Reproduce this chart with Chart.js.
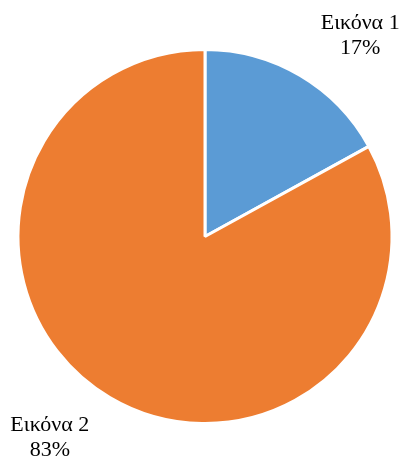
<!DOCTYPE html>
<html>
<head>
<meta charset="utf-8">
<script src="https://cdn.jsdelivr.net/npm/chart.js@4"></script>
<style>
  html, body { margin: 0; padding: 0; background: #fff; }
  #wrap { width: 403px; height: 461px; }
</style>
</head>
<body>
<div id="wrap"><canvas id="pieChart" width="403" height="461"></canvas></div>
<script>
const labels = ['Εικόνα 1', 'Εικόνα 2'];
const values = [17, 83];
const colors = ['#5B9BD5', '#ED7D31'];

// category name + percent outside each slice
const outsideLabels = {
  id: 'outsideLabels',
  afterDraw(chart) {
    const ctx = chart.ctx;
    const meta = chart.getDatasetMeta(0);
    const total = values.reduce((s, v) => s + v, 0);
    ctx.save();
    ctx.fillStyle = '#000';
    ctx.font = '22px "Liberation Serif", "Times New Roman", serif';
    ctx.textAlign = 'center';
    ctx.textBaseline = 'middle';
    meta.data.forEach((arc, i) => {
      const p = arc.getProps(['x', 'y', 'startAngle', 'endAngle', 'outerRadius'], true);
      const mid = (p.startAngle + p.endAngle) / 2;
      const x = p.x + Math.cos(mid) * p.outerRadius * 1.63;
      const y = p.y + Math.sin(mid) * p.outerRadius * 1.25;
      ctx.fillText(labels[i], x, y - 12.5);
      ctx.fillText(Math.round(values[i] / total * 100) + '%', x, y + 12.5);
    });
    ctx.restore();
  }
};

new Chart(document.getElementById('pieChart'), {
  type: 'pie',
  data: {
    labels: labels,
    datasets: [{
      data: values,
      backgroundColor: colors,
      borderColor: '#fff',
      borderWidth: 3
    }]
  },
  options: {
    responsive: false,
    animation: false,
    layout: { padding: { left: 16.5, right: 9.5, top: 48, bottom: 36 } },
    plugins: {
      legend: { display: false },
      tooltip: { enabled: false }
    }
  },
  plugins: [outsideLabels]
});
</script>
</body>
</html>
